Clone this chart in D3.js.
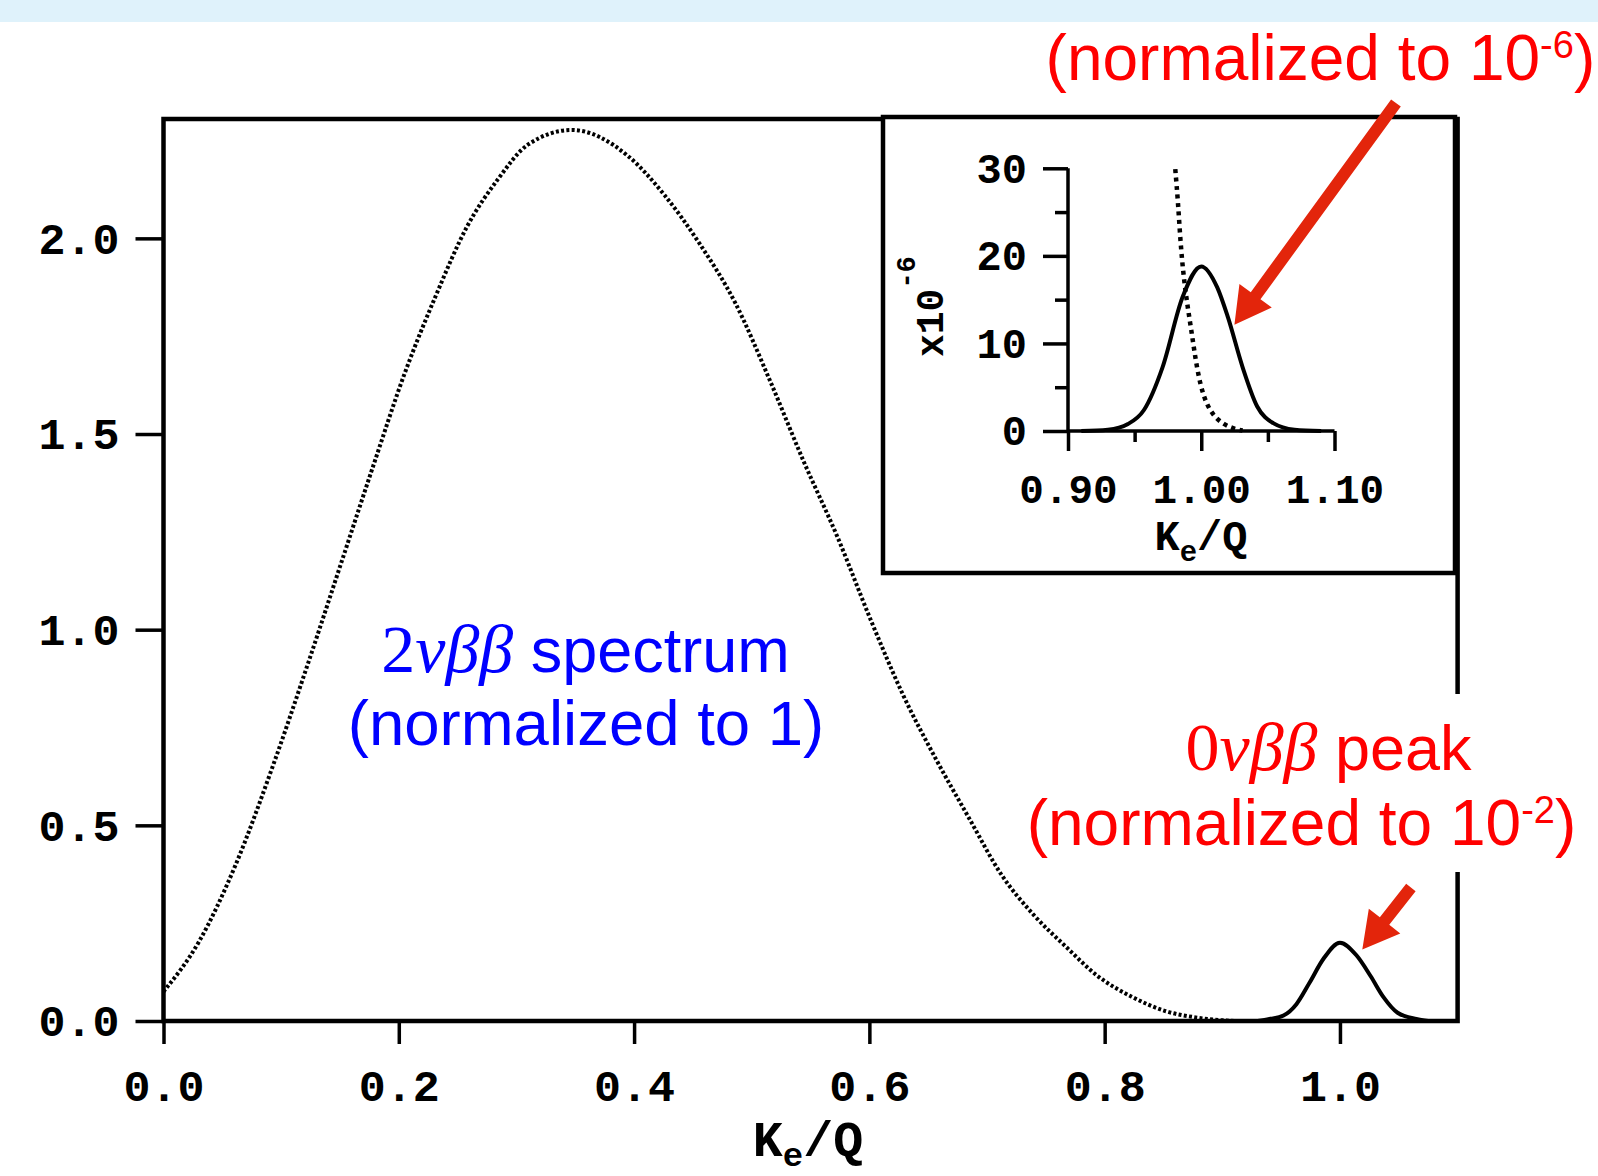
<!DOCTYPE html>
<html>
<head>
<meta charset="utf-8">
<script src="https://cdn.jsdelivr.net/npm/d3@7"></script>
<style>
  body { margin: 0; background: #fff; }
  .tick text { font-family: "Liberation Mono", monospace; font-weight: bold; fill: #000; }
</style>
</head>
<body>
<script>

// ---- data ----
var mainTicksX = [0, 0.2, 0.4, 0.6, 0.8, 1.0];
var mainTicksY = [0, 0.5, 1.0, 1.5, 2.0];

// 2vbb spectrum (dotted), normalized to 1
var spec2vX = [0.000, 0.030, 0.061, 0.093, 0.122, 0.150, 0.178, 0.205, 0.231, 0.258, 0.284, 0.310, 0.347,
               0.395, 0.426, 0.456, 0.486, 0.515, 0.544, 0.573, 0.601, 0.629, 0.657, 0.685, 0.712, 0.740,
               0.767, 0.794, 0.823, 0.852, 0.880, 0.910];
var spec2vY = [0.075, 0.202, 0.397, 0.652, 0.906, 1.161, 1.416, 1.655, 1.850, 2.030, 2.150, 2.240, 2.277,
               2.210, 2.110, 1.985, 1.835, 1.640, 1.431, 1.236, 1.026, 0.831, 0.667, 0.517, 0.375, 0.270,
               0.190, 0.115, 0.062, 0.025, 0.008, 0.000];

// 0vbb peak (solid), normalized to 1e-2
var peak0vX = [0.930, 0.940, 0.952, 0.963, 0.974, 0.986, 1.000, 1.014, 1.026, 1.037, 1.049, 1.065, 1.075];
var peak0vY = [0.000, 0.005, 0.014, 0.043, 0.097, 0.159, 0.200, 0.168, 0.115, 0.061, 0.021, 0.005, 0.000];

// inset
var insetMajorX = [0.90, 1.00, 1.10];
var insetMinorX = [0.95, 1.05];
var insetMajorY = [0, 10, 20, 30];
var insetMinorY = [5, 15, 25];

var inset0vX = [0.910, 0.930, 0.945, 0.957, 0.971, 0.986, 1.000, 1.012, 1.020, 1.031, 1.042, 1.054, 1.070, 1.090];
var inset0vY = [0.0, 0.15, 0.8, 2.4, 7.3, 15.3, 18.8, 16.4, 13.0, 7.3, 2.8, 0.9, 0.15, 0.0];

var inset2vX = [0.9805, 0.9825, 0.984, 0.986, 0.989, 0.993, 0.9965, 1.002, 1.011, 1.023, 1.031];
var inset2vY = [29.9, 26.3, 22.5, 18.7, 14.9, 11.1, 7.3, 3.5, 1.25, 0.3, 0.05];

// arrows in main-plot data units: [tailX, tailY, tipX, tipY]
var arrowBig = [1.0476, 2.346, 0.9103, 1.779];
var arrowSmall = [1.0603, 0.341, 1.019, 0.183];

// ---- layout ----
var W = 1598, H = 1176;
var svg = d3.select("body").append("svg").attr("width", W).attr("height", H);

svg.append("rect").attr("x", 0).attr("y", 0).attr("width", W).attr("height", 22).attr("fill", "#dff2fb");

var x = d3.scaleLinear().domain([0, 1.1]).range([163.5, 1457.6]);
var y = d3.scaleLinear().domain([0, 2.305]).range([1021, 119]);

var xi = d3.scaleLinear().domain([0.9, 1.1]).range([1068, 1334.5]);
var yi = d3.scaleLinear().domain([0, 30]).range([431, 168.3]);

var monoFont = "'Liberation Mono', monospace";
var sansFont = "'Liberation Sans', Arial, sans-serif";
var serifFont = "'Liberation Serif', 'Times New Roman', serif";

// main frame
svg.append("rect")
  .attr("x", x(0)).attr("y", y(2.305))
  .attr("width", x(1.1) - x(0)).attr("height", y(0) - y(2.305))
  .attr("fill", "none").attr("stroke", "#000").attr("stroke-width", 4.5);

// main axes
var gx = svg.append("g").attr("transform", "translate(0," + y(0) + ")")
  .call(d3.axisBottom(x).tickValues(mainTicksX).tickFormat(d3.format(".1f")).tickSize(23));
gx.select(".domain").remove();
gx.selectAll("line").attr("stroke-width", 3.5);
gx.selectAll("text").attr("y", 80).attr("dy", 0).attr("font-size", 45);

var gy = svg.append("g").attr("transform", "translate(" + x(0) + ",0)")
  .call(d3.axisLeft(y).tickValues(mainTicksY).tickFormat(d3.format(".1f")).tickSize(28));
gy.select(".domain").remove();
gy.selectAll("line").attr("stroke-width", 3.5);
gy.selectAll("text").attr("x", -44).attr("dy", "0.33em").attr("font-size", 45);

// main x title
var tt = svg.append("text").attr("x", 808).attr("y", 1156).attr("text-anchor", "middle")
  .attr("font-family", monoFont).attr("font-weight", "bold").attr("font-size", 50);
tt.append("tspan").text("K");
tt.append("tspan").attr("font-size", 34).attr("dy", 10).text("e");
tt.append("tspan").attr("dy", -10).text("/Q");

// curves
var spec2v = spec2vX.map(function(d, i) { return [d, spec2vY[i]]; });
var peak0v = peak0vX.map(function(d, i) { return [d, peak0vY[i]]; });

var line = d3.line().x(function(d) { return x(d[0]); }).y(function(d) { return y(d[1]); })
  .curve(d3.curveMonotoneX);

svg.append("path").datum(spec2v).attr("d", line)
  .attr("fill", "none").attr("stroke", "#000").attr("stroke-width", 4)
  .attr("stroke-dasharray", "3,2.3");

svg.append("path").datum(peak0v).attr("d", line)
  .attr("fill", "none").attr("stroke", "#000").attr("stroke-width", 4);

// ---- inset ----
svg.append("rect").attr("x", 883).attr("y", 117).attr("width", 572).attr("height", 456)
  .attr("fill", "#fff").attr("stroke", "#000").attr("stroke-width", 4.5);

var gxi = svg.append("g").attr("transform", "translate(0," + yi(0) + ")")
  .call(d3.axisBottom(xi).tickValues(insetMajorX).tickFormat(d3.format(".2f")).tickSize(20));
gxi.select(".domain").remove();
gxi.selectAll("line").attr("stroke-width", 3.5);
gxi.selectAll("text").attr("y", 72).attr("dy", 0).attr("font-size", 41);

var gxm = svg.append("g").attr("transform", "translate(0," + yi(0) + ")")
  .call(d3.axisBottom(xi).tickValues(insetMinorX).tickFormat("").tickSize(11));
gxm.select(".domain").remove();
gxm.selectAll("line").attr("stroke-width", 3.5);

var gyi = svg.append("g").attr("transform", "translate(" + xi(0.9) + ",0)")
  .call(d3.axisLeft(yi).tickValues(insetMajorY).tickFormat(d3.format("d")).tickSize(25));
gyi.select(".domain").remove();
gyi.selectAll("line").attr("stroke-width", 3.5);
gyi.selectAll("text").attr("x", -41).attr("dy", "0.33em").attr("font-size", 42);

var gym = svg.append("g").attr("transform", "translate(" + xi(0.9) + ",0)")
  .call(d3.axisLeft(yi).tickValues(insetMinorY).tickFormat("").tickSize(13));
gym.select(".domain").remove();
gym.selectAll("line").attr("stroke-width", 3.5);

// inset axis lines
svg.append("line").attr("x1", xi(0.9)).attr("x2", xi(0.9)).attr("y1", yi(0)).attr("y2", yi(30))
  .attr("stroke", "#000").attr("stroke-width", 3.5);
svg.append("line").attr("x1", xi(0.9)).attr("x2", xi(1.1)).attr("y1", yi(0)).attr("y2", yi(0))
  .attr("stroke", "#000").attr("stroke-width", 3.5);

var ti = svg.append("text").attr("x", 1201).attr("y", 550).attr("text-anchor", "middle")
  .attr("font-family", monoFont).attr("font-weight", "bold").attr("font-size", 42);
ti.append("tspan").text("K");
ti.append("tspan").attr("font-size", 29).attr("dy", 11).text("e");
ti.append("tspan").attr("dy", -11).text("/Q");

var yl = svg.append("text").attr("transform", "translate(943,357) rotate(-90)")
  .attr("font-family", monoFont).attr("font-weight", "bold").attr("font-size", 38);
yl.append("tspan").text("x10");
yl.append("tspan").attr("font-size", 27).attr("dy", -28).text("-6");

var lineI = d3.line().x(function(d) { return xi(d[0]); }).y(function(d) { return yi(d[1]); })
  .curve(d3.curveMonotoneX);
var inset0v = inset0vX.map(function(d, i) { return [d, inset0vY[i]]; });
var inset2v = inset2vX.map(function(d, i) { return [d, inset2vY[i]]; });

svg.append("path").datum(inset0v).attr("d", lineI)
  .attr("fill", "none").attr("stroke", "#000").attr("stroke-width", 4);
svg.append("path").datum(inset2v).attr("d", lineI.curve(d3.curveBasis))
  .attr("fill", "none").attr("stroke", "#000").attr("stroke-width", 4.5)
  .attr("stroke-dasharray", "4,4.5");

// ---- annotations ----
var red = "#ff0000", blue = "#0000ff", arrowRed = "#e3250b";

// white box behind the lower red label (hides the frame edge there)
svg.append("rect").attr("x", 1025).attr("y", 694).attr("width", 553).attr("height", 178).attr("fill", "#fff");

var b1 = svg.append("text").attr("x", 585.5).attr("y", 672).attr("text-anchor", "middle").attr("fill", blue);
b1.append("tspan").attr("font-family", serifFont).attr("font-size", 68).text("2");
b1.append("tspan").attr("font-family", serifFont).attr("font-style", "italic").attr("font-size", 68).text("νββ");
b1.append("tspan").attr("font-family", sansFont).attr("font-size", 63).text(" spectrum");

svg.append("text").attr("x", 586).attr("y", 745).attr("text-anchor", "middle").attr("fill", blue)
  .attr("font-family", sansFont).attr("font-size", 63.5).text("(normalized to 1)");

var r1 = svg.append("text").attr("x", 1328.6).attr("y", 770).attr("text-anchor", "middle").attr("fill", red);
r1.append("tspan").attr("font-family", serifFont).attr("font-size", 68).text("0");
r1.append("tspan").attr("font-family", serifFont).attr("font-style", "italic").attr("font-size", 68).text("νββ");
r1.append("tspan").attr("font-family", sansFont).attr("font-size", 63).text(" peak");

var r2 = svg.append("text").attr("x", 1301.5).attr("y", 845).attr("text-anchor", "middle").attr("fill", red)
  .attr("font-family", sansFont).attr("font-size", 64);
r2.append("tspan").text("(normalized to 10");
r2.append("tspan").attr("font-size", 38).attr("dy", -22).text("-2");
r2.append("tspan").attr("dy", 22).text(")");

var r3 = svg.append("text").attr("x", 1320.4).attr("y", 80).attr("text-anchor", "middle").attr("fill", red)
  .attr("font-family", sansFont).attr("font-size", 64);
r3.append("tspan").text("(normalized to 10");
r3.append("tspan").attr("font-size", 38).attr("dy", -22).text("-6");
r3.append("tspan").attr("dy", 22).text(")");

function arrowPoints(a, w, hl, hw) {
  var x1 = x(a[0]), y1 = y(a[1]), x2 = x(a[2]), y2 = y(a[3]);
  var dx = x2 - x1, dy = y2 - y1, L = Math.sqrt(dx * dx + dy * dy);
  var ux = dx / L, uy = dy / L, px = -uy, py = ux;
  var bx = x2 - ux * hl, by = y2 - uy * hl;
  var pts = [
    [x1 + px * w / 2, y1 + py * w / 2],
    [bx + px * w / 2, by + py * w / 2],
    [bx + px * hw, by + py * hw],
    [x2, y2],
    [bx - px * hw, by - py * hw],
    [bx - px * w / 2, by - py * w / 2],
    [x1 - px * w / 2, y1 - py * w / 2]
  ];
  return pts.map(function(p) { return p.join(","); }).join(" ");
}

svg.append("polygon").attr("points", arrowPoints(arrowBig, 12, 36, 20)).attr("fill", arrowRed);
svg.append("polygon").attr("points", arrowPoints(arrowSmall, 12, 36, 20)).attr("fill", arrowRed);

</script>
</body>
</html>
